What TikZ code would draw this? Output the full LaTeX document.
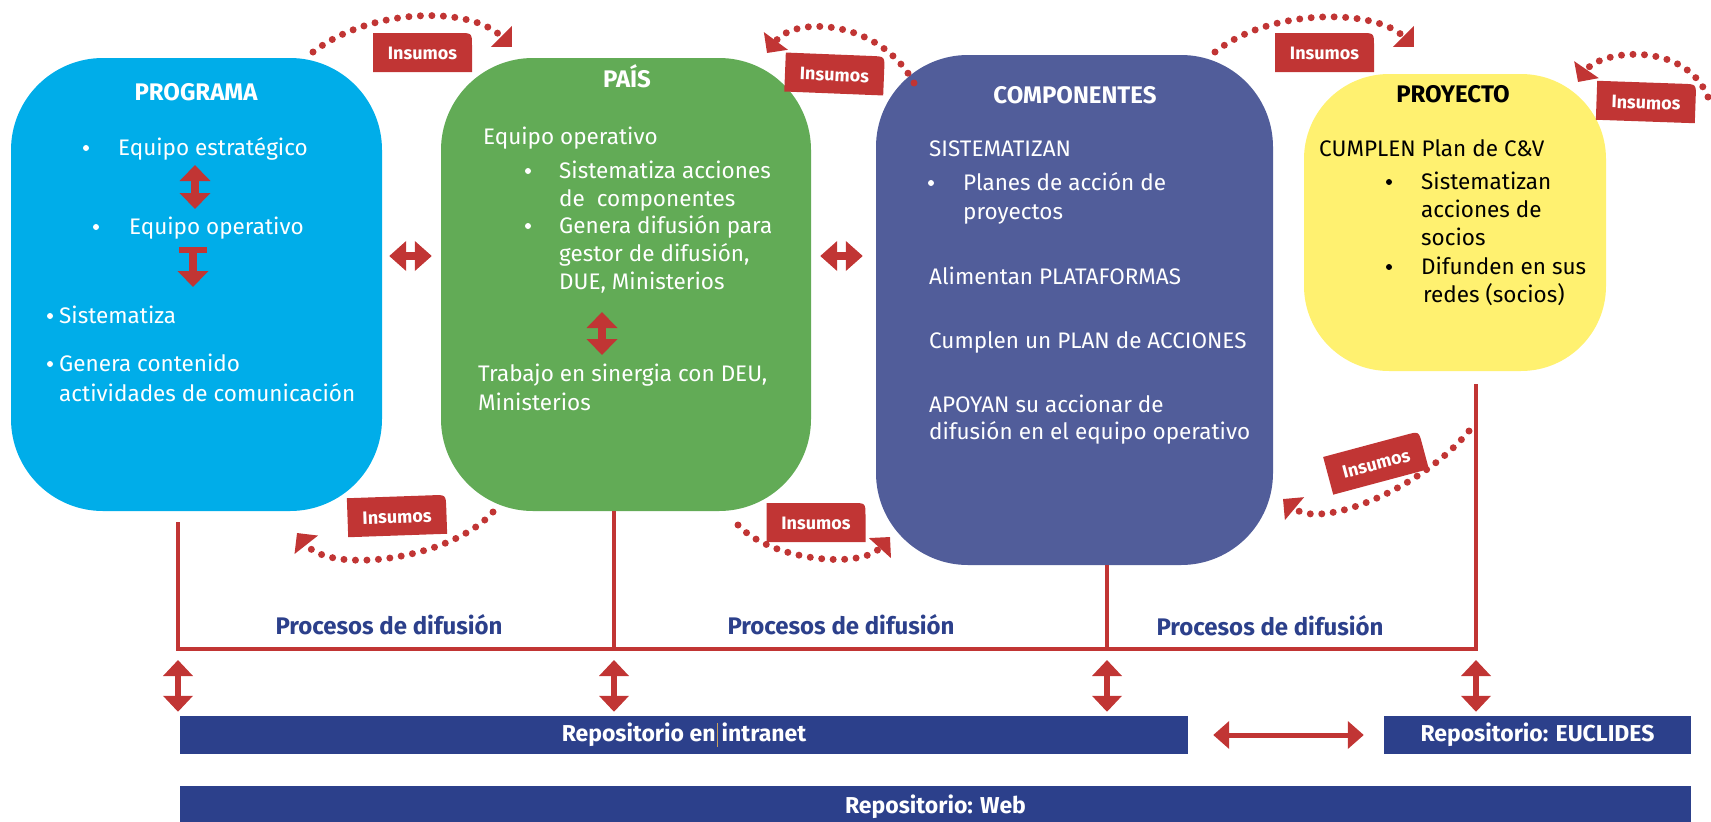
\documentclass[tikz,border=0pt]{standalone}
\usepackage{fontspec}
\setmainfont{Fira Sans}
\usetikzlibrary{arrows.meta}

\definecolor{azul}{RGB}{0,173,233}
\definecolor{verde}{RGB}{98,171,86}
\definecolor{morado}{RGB}{81,93,154}
\definecolor{amarillo}{RGB}{255,241,112}
\definecolor{rojo}{RGB}{193,53,52}
\definecolor{marino}{RGB}{44,64,139}
\definecolor{cursor}{RGB}{200,160,90}

\tikzset{
  caja/.style={rounded corners=92pt, inner sep=0pt},
  titulo/.style={anchor=base, inner sep=0pt, text=white, font=\fontsize{24}{28}\selectfont\bfseries},
  linea/.style={anchor=base west, inner sep=0pt, text=white, font=\fontsize{22.5}{28}\selectfont},
  proceso/.style={anchor=base, inner sep=0pt, text=marino, font=\fontsize{24}{28}\selectfont\bfseries},
  repo/.style={fill=marino, text=white, inner sep=0pt, minimum height=38pt, font=\fontsize{23}{26}\selectfont\bfseries},
  etiqueta/.style={text=white, inner sep=0pt, transform shape, font=\fontsize{18}{20}\selectfont\bfseries},
  bus/.style={draw=rojo, line width=4pt},
  flechav/.style={draw=rojo, line width=8pt, <->, >={Triangle[width=30pt,length=16pt]}},
  flechat/.style={draw=rojo, line width=8pt, arrows={Bar[width=28pt,line width=6pt]-Triangle[width=30pt,length=16pt]}},
  flechah/.style={draw=rojo, line width=8pt, <->, >={Triangle[width=29pt,length=17pt]}},
  flechab/.style={draw=rojo, line width=6pt, <->, >={Triangle[width=29pt,length=16pt]}},
  flechar/.style={draw=rojo, line width=5pt, <->, >={Triangle[width=27pt,length=16pt]}},
  insumo/.style={draw=rojo, line width=7pt, line cap=round, dash pattern=on 0pt off 11.5pt, -{Triangle[width=29pt,length=15pt]}},
  insumos/.pic={
    \fill[rojo] (-49.5,19.5) -- (-49.5,-19.5) -- (36.5,-19.5) .. controls (49.5,-19.5) .. (49.5,-6.5) -- (49.5,19.5) -- cycle;
    \node[etiqueta] (-txt) at (0,1) {Insumos};
  }
}

\begin{document}
\begin{tikzpicture}[x=1pt,y=-1pt]
\useasboundingbox (0,0) rectangle (1711,822);
%Cajas
\node[caja, fill=azul, minimum width=371pt, minimum height=453pt] (programa) at (196.5,284.5) {};
\node[caja, fill=verde, minimum width=370pt, minimum height=453pt] (pais) at (626,284.5) {};
\node[caja, fill=morado, minimum width=397pt, minimum height=510pt] (comp) at (1074.5,310) {};
\node[caja, fill=amarillo, rounded corners=85pt, minimum width=302pt, minimum height=297pt] (proyecto) at (1455,222.5) {};

%Títulos
\node[titulo] (tprog) at (196,100) {PROGRAMA};
\node[titulo] (tpais) at (627,87) {PAÍS};
\node[titulo] (tcomp) at (1075,103) {COMPONENTES};
\node[titulo, text=black] (tproy) at (1453,102) {PROYECTO};

%Textos
\foreach \x/\y/\t [count=\i] in {118/155/{Equipo estratégico}, 129/234/{Equipo operativo},
  59/323/{Sistematiza}, 59/371/{Genera contenido}, 59/401/{actividades de comunicación}}
  {\node[linea] (prog\i) at (\x,\y) {\t};}
\foreach \x/\y/\t [count=\i] in {483/144/{Equipo operativo}, 559/178/{Sistematiza acciones},
  559/206/{de~ componentes}, 559/233/{Genera difusión para}, 559/261/{gestor de difusión,},
  559/289/{DUE, Ministerios}, 478/381/{Trabajo en sinergia con DEU,}, 478/410/{Ministerios}}
  {\node[linea] (pais\i) at (\x,\y) {\t};}
\foreach \x/\y/\t [count=\i] in {929/156/{SISTEMATIZAN}, 963/190/{Planes de acción de},
  963/219/{proyectos}, 929/284/{Alimentan PLATAFORMAS}, 929/348/{Cumplen un PLAN de ACCIONES},
  929/412/{APOYAN su accionar de}, 929/439/{difusión en el equipo operativo}}
  {\node[linea] (comp\i) at (\x,\y) {\t};}
\foreach \x/\y/\t [count=\i] in {1319/156/{CUMPLEN Plan de C\&V}, 1421/189/{Sistematizan},
  1421/217/{acciones de}, 1421/245/{socios}, 1421/274/{Difunden en sus}, 1423/302/{redes (socios)}}
  {\node[linea, text=black] (proy\i) at (\x,\y) {\t};}

%Viñetas
\foreach \x/\y in {86/148, 96/227, 50/316, 50/364, 528/171, 528/226, 931/183}
  {\fill[white] (\x,\y) circle (3pt);}
\foreach \x/\y in {1389/182, 1389/267}
  {\fill[black] (\x,\y) circle (3pt);}

%Flechas internas
\coordinate (fa1) at (195,165); \coordinate (fa2) at (195,209);
\coordinate (fb1) at (193,247); \coordinate (fb2) at (193,287);
\coordinate (fc1) at (602,312); \coordinate (fc2) at (602,355);
\draw[flechav] (fa1) -- (fa2);
\draw[flechat] (fb1) -- (fb2);
\draw[flechav] (fc1) -- (fc2);
\draw[flechah, shorten <=7pt, shorten >=9pt] ([yshift=28.5pt]programa.east) -- ([yshift=28.5pt]programa.east -| pais.west);
\draw[flechah, shorten <=9pt, shorten >=13pt] ([yshift=28.5pt]pais.east) -- ([yshift=28.5pt]pais.east -| comp.west);

%Insumos
\coordinate (i1a) at (313,52);   \coordinate (i1b) at (512,47);
\coordinate (i2a) at (914,83);   \coordinate (i2b) at (767,53);
\coordinate (i3a) at (1215,52);  \coordinate (i3b) at (1414,47);
\coordinate (i4a) at (1708,97);  \coordinate (i4b) at (1578,82);
\coordinate (i5a) at (493,512);  \coordinate (i5b) at (297,533);
\coordinate (i6a) at (738,525);  \coordinate (i6b) at (890,537);
\coordinate (i7a) at (1469,431); \coordinate (i7b) at (1283,499);
\draw[insumo] (i1a) .. controls (370,8) and (470,5) .. (i1b);
\draw[insumo] (i2a) .. controls (880,20) and (795,15) .. (i2b);
\draw[insumo] (i3a) .. controls (1270,8) and (1375,8) .. (i3b);
\draw[insumo] (i4a) .. controls (1685,40) and (1600,50) .. (i4b);
\draw[insumo] (i5a) .. controls (450,560) and (330,575) .. (i5b);
\draw[insumo] (i6a) .. controls (770,560) and (860,570) .. (i6b);
\draw[insumo] (i7a) .. controls (1420,490) and (1320,530) .. (i7b);
\pic (ins1) at (422.5,52.5) {insumos};
\pic[rotate=-2.3] (ins2) at (834.5,74) {insumos};
\pic (ins3) at (1324.5,52.5) {insumos};
\pic[rotate=-2] (ins4) at (1646,102) {insumos};
\pic[rotate=2] (ins5) at (397,516) {insumos};
\pic (ins6) at (816,522.5) {insumos};
\pic[rotate=15] (ins7) at (1376,463) {insumos};

%Repositorios
\node[repo, minimum width=1008pt] (intranet) at (684,735)
  {Repositorio en\hspace{1pt}\textcolor{cursor}{\rule[-5pt]{1.2pt}{24pt}}\hspace{4pt}intranet};
\node[repo, minimum width=307pt] (euclides) at (1537.5,735) {Repositorio: EUCLIDES};
\node[repo, minimum width=1511pt, minimum height=42pt] (web) at (935.5,807) {Repositorio: Web};

%Procesos de difusión
\coordinate (b1) at (178,649); \coordinate (b2) at (614,649);
\coordinate (b3) at (1107,649); \coordinate (b4) at (1476,649);
\draw[bus] ([yshift=-11pt]programa.south -| b1) -- (b1) -- (b4) -- ([yshift=-13pt]proyecto.south -| b4);
\draw[bus] (pais.south -| b2) -- (b2);
\draw[bus] (comp.south -| b3) -- (b3);
\node[proceso] (proc1) at (389,634) {Procesos de difusión};
\node[proceso] (proc2) at (841,634) {Procesos de difusión};
\node[proceso] (proc3) at (1270,635) {Procesos de difusión};
\foreach \b in {b1,b2,b3}
  {\draw[flechab] ([yshift=-11pt]\b) -- ([yshift=4pt]intranet.north -| \b);}
\draw[flechab] ([yshift=-11pt]b4) -- ([yshift=4pt]euclides.north -| b4);
\draw[flechar, shorten <=25pt, shorten >=20pt] (intranet.east) -- (euclides.west);
\end{tikzpicture}
\end{document}
